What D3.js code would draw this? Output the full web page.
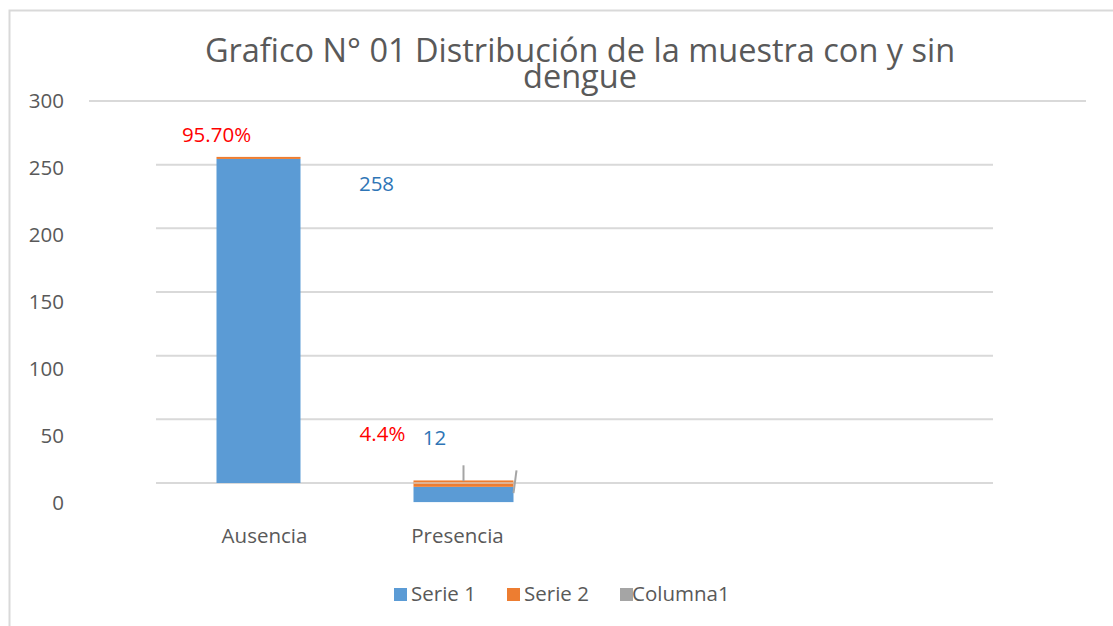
<!DOCTYPE html>
<html>
<head>
<meta charset="utf-8">
<script src="https://cdn.jsdelivr.net/npm/d3@7"></script>
<style>
  body { margin: 0; background: #fff; }
  svg text { font-family: "Open Sans", "Noto Sans", sans-serif; fill: #595959; }
</style>
</head>
<body>
<div id="chart"></div>
<script>
// data
const categories = ["Ausencia", "Presencia"];
const baseValues = [0, -15];          // where each stack starts
const serie1 = [254.5, 12];
const serie2 = [1.6, 5];
const columna1 = [0, 12.4];
const countLabels = ["258", "12"];
const pctLabels = ["95.70%", "4.4%"];
const yTicks = [0, 50, 100, 150, 200, 250, 300];
const seriesNames = ["Serie 1", "Serie 2", "Columna1"];
const colors = ["#5B9BD5", "#ED7D31", "#A5A5A5"];

const width = 1113, height = 626;
const barW = [84, 100];
const fs = "20.5px";

const svg = d3.select("#chart").append("svg")
  .attr("width", width).attr("height", height);

// outer frame
svg.append("rect")
  .attr("x", 9.5).attr("y", 10.5)
  .attr("width", 1120).attr("height", 640)
  .attr("fill", "none").attr("stroke", "#d9d9d9").attr("stroke-width", 2);

const y = d3.scaleLinear().domain([0, 300]).range([483, 101]);
const yLab = d3.scaleLinear().domain([0, 300]).range([503, 101]);
const x = d3.scaleBand().domain(categories).range([156, 566]);

// gridlines
svg.append("g").selectAll("line")
  .data(yTicks)
  .enter().append("line")
  .attr("x1", d => d === 300 ? 89 : 156)
  .attr("x2", d => d === 300 ? 1086 : 993)
  .attr("y1", d => y(d)).attr("y2", d => y(d))
  .attr("stroke", "#d9d9d9").attr("stroke-width", 2);

// y tick labels
svg.append("g").selectAll("text")
  .data(yTicks)
  .enter().append("text")
  .attr("x", 64).attr("y", d => yLab(d) + 7)
  .attr("text-anchor", "end")
  .style("font-size", fs)
  .text(d => d);

// stacked bars
const rows = categories.map((c, i) => ({
  cat: c, i: i, b: baseValues[i], s1: serie1[i], s2: serie2[i]
}));
const bars = svg.append("g");
bars.selectAll(".s1").data(rows).enter().append("rect")
  .attr("x", d => x(d.cat) + x.bandwidth() / 2 - barW[d.i] / 2)
  .attr("width", d => barW[d.i])
  .attr("y", d => y(d.b + d.s1))
  .attr("height", d => y(d.b) - y(d.b + d.s1))
  .attr("fill", colors[0]);
bars.selectAll(".s2").data(rows).enter().append("rect")
  .attr("x", d => x(d.cat) + x.bandwidth() / 2 - barW[d.i] / 2)
  .attr("width", d => barW[d.i])
  .attr("y", d => y(d.b + d.s1 + d.s2))
  .attr("height", d => y(d.b + d.s1) - y(d.b + d.s1 + d.s2))
  .attr("fill", colors[1]);

// gridline showing through the small bar
svg.append("line")
  .attr("x1", x("Presencia") + x.bandwidth() / 2 - barW[1] / 2)
  .attr("x2", x("Presencia") + x.bandwidth() / 2 + barW[1] / 2)
  .attr("y1", y(0)).attr("y2", y(0))
  .attr("stroke", "#d9d9d9").attr("stroke-width", 1.5).attr("opacity", 0.8);

// Columna1 slivers
svg.append("g").selectAll("line")
  .data(rows.filter(d => columna1[d.i] > 0))
  .enter().append("line")
  .attr("x1", d => x(d.cat) + x.bandwidth() / 2)
  .attr("x2", d => x(d.cat) + x.bandwidth() / 2)
  .attr("y1", d => y(columna1[d.i] + 1.5))
  .attr("y2", d => y(1.5))
  .attr("stroke", colors[2]).attr("stroke-width", 2);
svg.append("line")
  .attr("x1", x("Presencia") + x.bandwidth() / 2 + barW[1] / 2 + 3)
  .attr("x2", x("Presencia") + x.bandwidth() / 2 + barW[1] / 2)
  .attr("y1", y(10)).attr("y2", y(-8))
  .attr("stroke", colors[2]).attr("stroke-width", 2);

// data labels
const lab = svg.append("g");
lab.append("text")
  .attr("x", x("Ausencia") + x.bandwidth() / 2 - 42).attr("y", y(268))
  .attr("text-anchor", "middle").style("font-size", fs)
  .style("fill", "#FF0000").text(pctLabels[0]);
lab.append("text")
  .attr("x", x("Ausencia") + x.bandwidth() / 2 + 118).attr("y", y(229))
  .attr("text-anchor", "middle").style("font-size", fs)
  .style("fill", "#2E75B6").text(countLabels[0]);
lab.append("text")
  .attr("x", x("Presencia") + x.bandwidth() / 2 - 81).attr("y", y(33))
  .attr("text-anchor", "middle").style("font-size", fs)
  .style("fill", "#FF0000").text(pctLabels[1]);
lab.append("text")
  .attr("x", x("Presencia") + x.bandwidth() / 2 - 29).attr("y", y(30))
  .attr("text-anchor", "middle").style("font-size", fs)
  .style("fill", "#2E75B6").text(countLabels[1]);

// category labels
svg.append("g").selectAll("text")
  .data(categories)
  .enter().append("text")
  .attr("x", (d, i) => x(d) + x.bandwidth() / 2 + (i === 0 ? 6 : -6))
  .attr("y", 543)
  .attr("text-anchor", "middle")
  .style("font-size", fs)
  .text(d => d);

// title
const title = svg.append("g").attr("transform", "translate(580,0)");
title.append("text").attr("y", 62).attr("text-anchor", "middle")
  .style("font-size", "32.5px")
  .text("Grafico N° 01 Distribución de la muestra con y sin");
title.append("text").attr("y", 88).attr("text-anchor", "middle")
  .style("font-size", "32.5px")
  .text("dengue");

// legend
const legX = [394, 507, 620];
const leg = svg.append("g").selectAll("g")
  .data(seriesNames)
  .enter().append("g")
  .attr("transform", (d, i) => `translate(${legX[i]},588)`);
leg.append("rect").attr("width", 13).attr("height", 13)
  .attr("fill", (d, i) => colors[i]);
leg.append("text").attr("x", (d, i) => i === 2 ? 12 : 17).attr("y", 13)
  .style("font-size", fs).text(d => d);
</script>
</body>
</html>
